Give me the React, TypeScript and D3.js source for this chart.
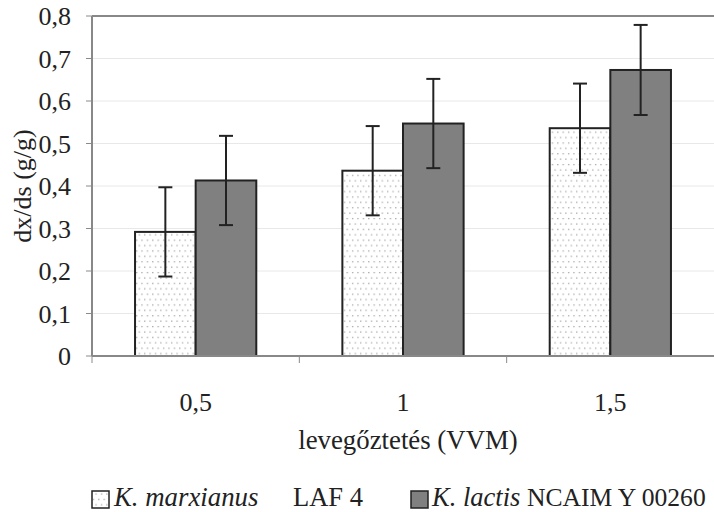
import React from "react";
import * as d3 from "d3";

const categories = ["0,5", "1", "1,5"];
const seriesNames = ["K. marxianus", "K. lactis"];
const marxianus = [0.292, 0.436, 0.536];
const lactis = [0.413, 0.547, 0.673];
const marxianusErr = [0.105, 0.105, 0.105];
const lactisErr = [0.105, 0.105, 0.106];
const yTicks = [0, 0.1, 0.2, 0.3, 0.4, 0.5, 0.6, 0.7, 0.8];

const W = 714;
const H = 512;
const M = { left: 92, right: 714, top: 16, bottom: 356 };
const FONT = "Liberation Serif";

export default function App() {
  const x0 = d3.scaleBand<string>().domain(categories).range([M.left, M.right]).padding(0);
  const x1 = d3
    .scaleBand<string>()
    .domain(seriesNames)
    .range([0, x0.bandwidth()])
    .paddingInner(0)
    .paddingOuter(0.71);
  const y = d3.scaleLinear().domain([0, 0.8]).range([M.bottom, M.top]);

  const series = [
    { name: seriesNames[0], values: marxianus, err: marxianusErr, fill: "url(#dots)" },
    { name: seriesNames[1], values: lactis, err: lactisErr, fill: "#808080" },
  ];

  const cap = 7;
  const boundaries = [M.left, ...categories.slice(1).map((c) => x0(c)!)];

  return (
    <svg
      width={W}
      height={H}
      style={{ position: "absolute", left: 0, top: 0, background: "#fff" }}
      fontFamily={FONT}
    >
      <defs>
        <pattern id="dots" width={5.4} height={10.8} patternUnits="userSpaceOnUse">
          <rect width={5.4} height={10.8} fill="#fff" />
          <rect x={1} y={2} width={1.2} height={1.2} fill="#9a9a9a" />
          <rect x={3.7} y={7.4} width={1.2} height={1.2} fill="#9a9a9a" />
        </pattern>
      </defs>
      {/* gridlines */}
      {yTicks.slice(1, -1).map((t) => (
        <line key={t} x1={M.left} x2={M.right} y1={y(t)} y2={y(t)} stroke="#e8e8e8" strokeWidth={1} />
      ))}
      {/* y ticks + labels */}
      {yTicks.map((t) => (
        <g key={"yt" + t}>
          <line x1={M.left - 6} x2={M.left} y1={y(t)} y2={y(t)} stroke="#8a8a8a" strokeWidth={1} />
          <text x={71} y={y(t)} dy="0.35em" textAnchor="end" fontSize={26} fill="#222" fontFamily={FONT}>
            {String(t).replace(".", ",")}
          </text>
        </g>
      ))}
      {/* bars */}
      {series.map((s) =>
        categories.map((c, i) => {
          const bx = x0(c)! + x1(s.name)!;
          return (
            <rect
              key={s.name + c}
              x={bx}
              y={y(s.values[i])}
              width={x1.bandwidth()}
              height={y(0) - y(s.values[i])}
              fill={s.fill}
              stroke="#222"
              strokeWidth={2}
            />
          );
        })
      )}
      {/* error bars */}
      {series.map((s) =>
        categories.map((c, i) => {
          const cx = x0(c)! + x1(s.name)! + x1.bandwidth() / 2;
          const hi = y(s.values[i] + s.err[i]);
          const lo = y(s.values[i] - s.err[i]);
          return (
            <g key={"e" + s.name + c} stroke="#222" strokeWidth={2}>
              <line x1={cx} x2={cx} y1={hi} y2={lo} />
              <line x1={cx - cap} x2={cx + cap} y1={hi} y2={hi} />
              <line x1={cx - cap} x2={cx + cap} y1={lo} y2={lo} />
            </g>
          );
        })
      )}
      {/* frame */}
      <line x1={M.left} x2={M.right} y1={M.top} y2={M.top} stroke="#888" strokeWidth={2} />
      <line x1={M.left} x2={M.left} y1={M.top} y2={M.bottom} stroke="#888" strokeWidth={2} />
      <line x1={M.left} x2={M.right} y1={M.bottom} y2={M.bottom} stroke="#888" strokeWidth={2} />
      {boundaries.map((b, i) => (
        <line key={"xb" + i} x1={b} x2={b} y1={M.bottom} y2={M.bottom + 7} stroke="#8a8a8a" strokeWidth={1} />
      ))}
      {/* x labels */}
      {categories.map((c) => (
        <text key={"xl" + c} x={x0(c)! + x0.bandwidth() / 2} y={411} textAnchor="middle" fontSize={26} fill="#222" fontFamily={FONT}>
          {c}
        </text>
      ))}
      <text x={408} y={449} textAnchor="middle" fontSize={26.8} fill="#222" fontFamily={FONT}>
        levegőztetés (VVM)
      </text>
      <text
        transform={`translate(31, 186) rotate(-90)`}
        textAnchor="middle"
        fontSize={26}
        fill="#222"
        fontFamily={FONT}
      >
        dx/ds (g/g)
      </text>
      {/* legend */}
      <g fill="#222">
        <rect x={92} y={491} width={17} height={17} fill="url(#dots)" stroke="#222" strokeWidth={1.5} />
        <text x={114} y={506} fontStyle="italic" fontSize={26.8} fontFamily={FONT}>K. marxianus</text>
        <text x={293} y={506} fontSize={26.5} fontFamily={FONT}>LAF 4</text>
        <rect x={411} y={491} width={17} height={17} fill="#808080" stroke="#222" strokeWidth={1.5} />
        <text x={432} y={506} fontStyle="italic" fontSize={26.5} fontFamily={FONT}>K. lactis</text>
        <text x={527} y={506} fontSize={25.6} fontFamily={FONT}>NCAIM Y 00260</text>
      </g>
    </svg>
  );
}
